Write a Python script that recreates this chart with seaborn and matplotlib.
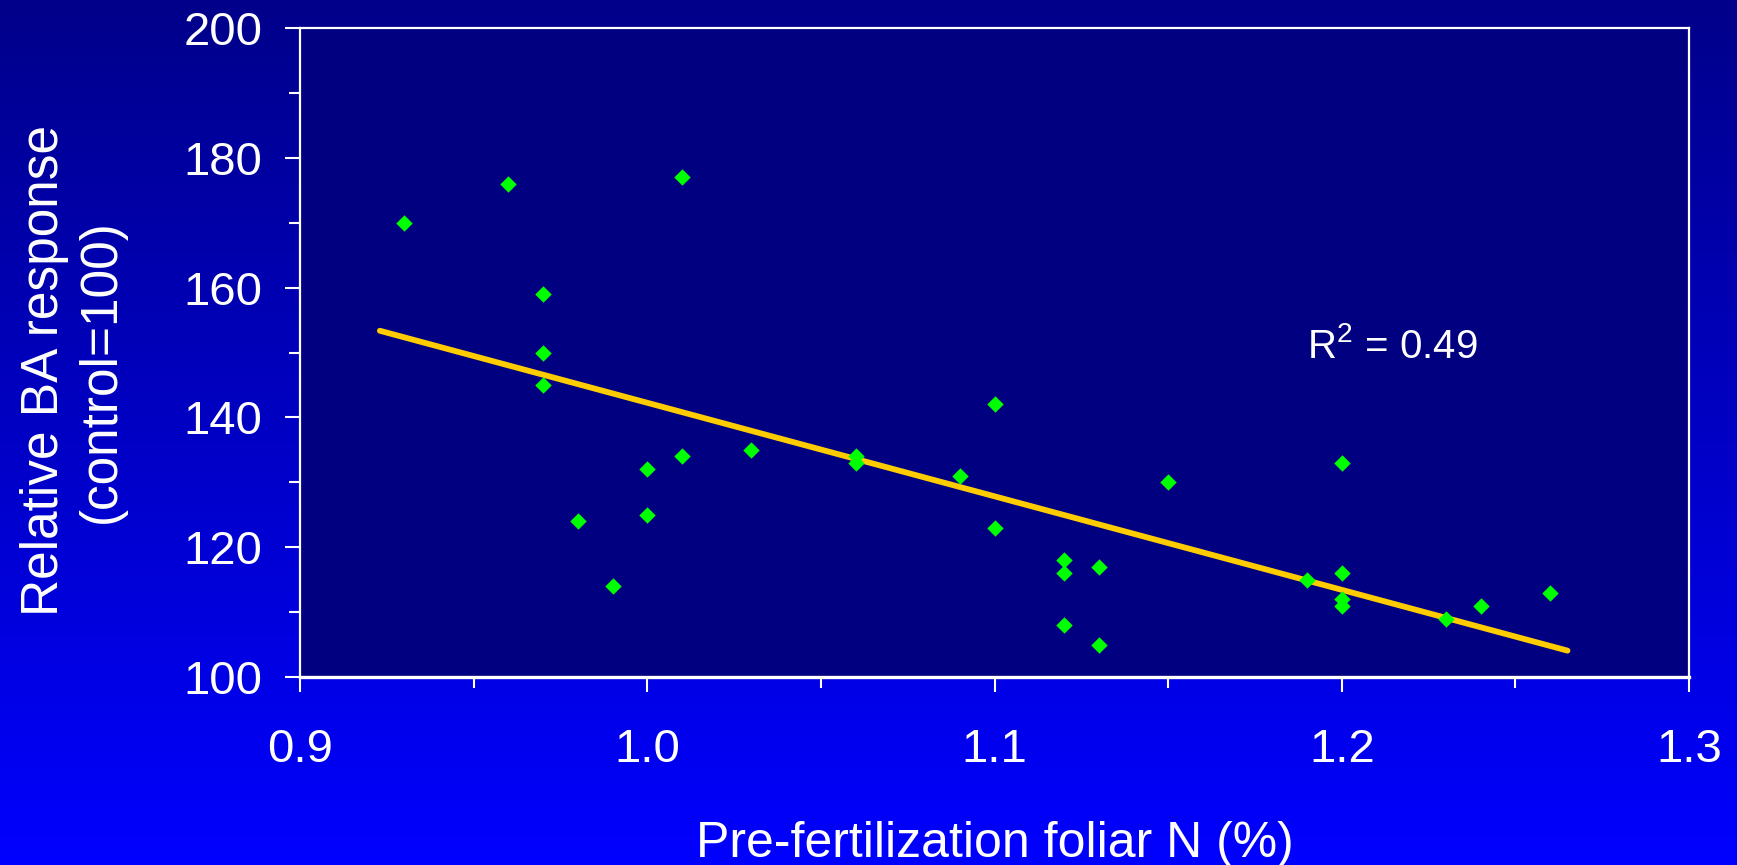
import numpy as np
import seaborn as sns
import matplotlib
matplotlib.use("Agg")
import matplotlib.pyplot as plt
from matplotlib.ticker import MultipleLocator

# values
foliar_n = [0.93, 0.96, 1.01, 0.97, 0.97, 0.97, 0.98, 0.99, 1.00, 1.00,
            1.01, 1.03, 1.06, 1.06, 1.09, 1.10, 1.10, 1.15, 1.12, 1.12,
            1.12, 1.13, 1.13, 1.19, 1.20, 1.20, 1.20, 1.20, 1.23, 1.24, 1.26]
ba_response = [170, 176, 177, 159, 150, 145, 124, 114, 132, 125,
               134, 135, 134, 133, 131, 142, 123, 130, 118, 116,
               108, 117, 105, 115, 133, 116, 112, 111, 109, 111, 113]
trend_extent = [0.923, 1.265]
r2_label = "R$^2$ = 0.49"
x_ticks = [0.9, 1.0, 1.1, 1.2, 1.3]
y_ticks = [100, 120, 140, 160, 180, 200]

sns.set_theme(style="ticks")
plt.rcParams["font.family"] = ["Liberation Sans", "DejaVu Sans"]
plt.rcParams["mathtext.fontset"] = "custom"
plt.rcParams["mathtext.rm"] = "Liberation Sans"
plt.rcParams["mathtext.it"] = "Liberation Sans"

fig = plt.figure(figsize=(17.37, 8.65), dpi=100)

# gradient background, dark navy at the top to bright blue at the bottom
bg = fig.add_axes([0, 0, 1, 1], zorder=-1)
grad = np.linspace(0, 1, 256).reshape(-1, 1)
cmap = matplotlib.colors.LinearSegmentedColormap.from_list("bg", ["#00008A", "#0000FF"])
bg.imshow(grad, aspect="auto", cmap=cmap, extent=[0, 1, 0, 1], origin="upper")
bg.axis("off")

ax = fig.add_axes([0.1727, 0.2173, 0.7997, 0.7503])
ax.set_facecolor("#000080")

sns.scatterplot(x=foliar_n, y=ba_response, marker="D", color="#00FF00",
                s=70, linewidth=0, ax=ax, zorder=3)

slope, intercept = np.polyfit(foliar_n, ba_response, 1)
line_x = np.array(trend_extent)
sns.lineplot(x=line_x, y=slope * line_x + intercept, color="#FFCC00",
             lw=4.2, ax=ax, zorder=2)

ax.text(1.19, 149.2, r2_label, color="white", fontsize=29, ha="left", va="baseline")

ax.set_xlim(0.9, 1.3)
ax.set_ylim(100, 200)
ax.set_xticks(x_ticks)
ax.set_xticklabels([f"{v:.1f}" for v in x_ticks])
ax.set_yticks(y_ticks)
ax.xaxis.set_minor_locator(MultipleLocator(0.05))
ax.yaxis.set_minor_locator(MultipleLocator(10))

for side in ["left", "right", "top", "bottom"]:
    ax.spines[side].set_color("white")
    ax.spines[side].set_linewidth(1.6)
ax.spines["bottom"].set_linewidth(2.4)

ax.tick_params(axis="both", which="major", colors="white", length=11, width=1.5,
               labelsize=34)
ax.tick_params(axis="both", which="minor", colors="white", length=8, width=1.5)
ax.tick_params(axis="x", which="major", pad=26)
ax.tick_params(axis="y", which="major", pad=16)

ax.set_xlabel("Pre-fertilization foliar N (%)", color="white", fontsize=36)
ax.xaxis.set_label_coords(0.5, -0.222)
ax.set_ylabel("")
fig.text(73 / 1737, 1 - 371 / 865, "Relative BA response\n(control=100)",
         color="white", fontsize=37, rotation=90, ha="center", va="center",
         multialignment="center", linespacing=1.2)

fig.savefig("out.png", dpi=100)
